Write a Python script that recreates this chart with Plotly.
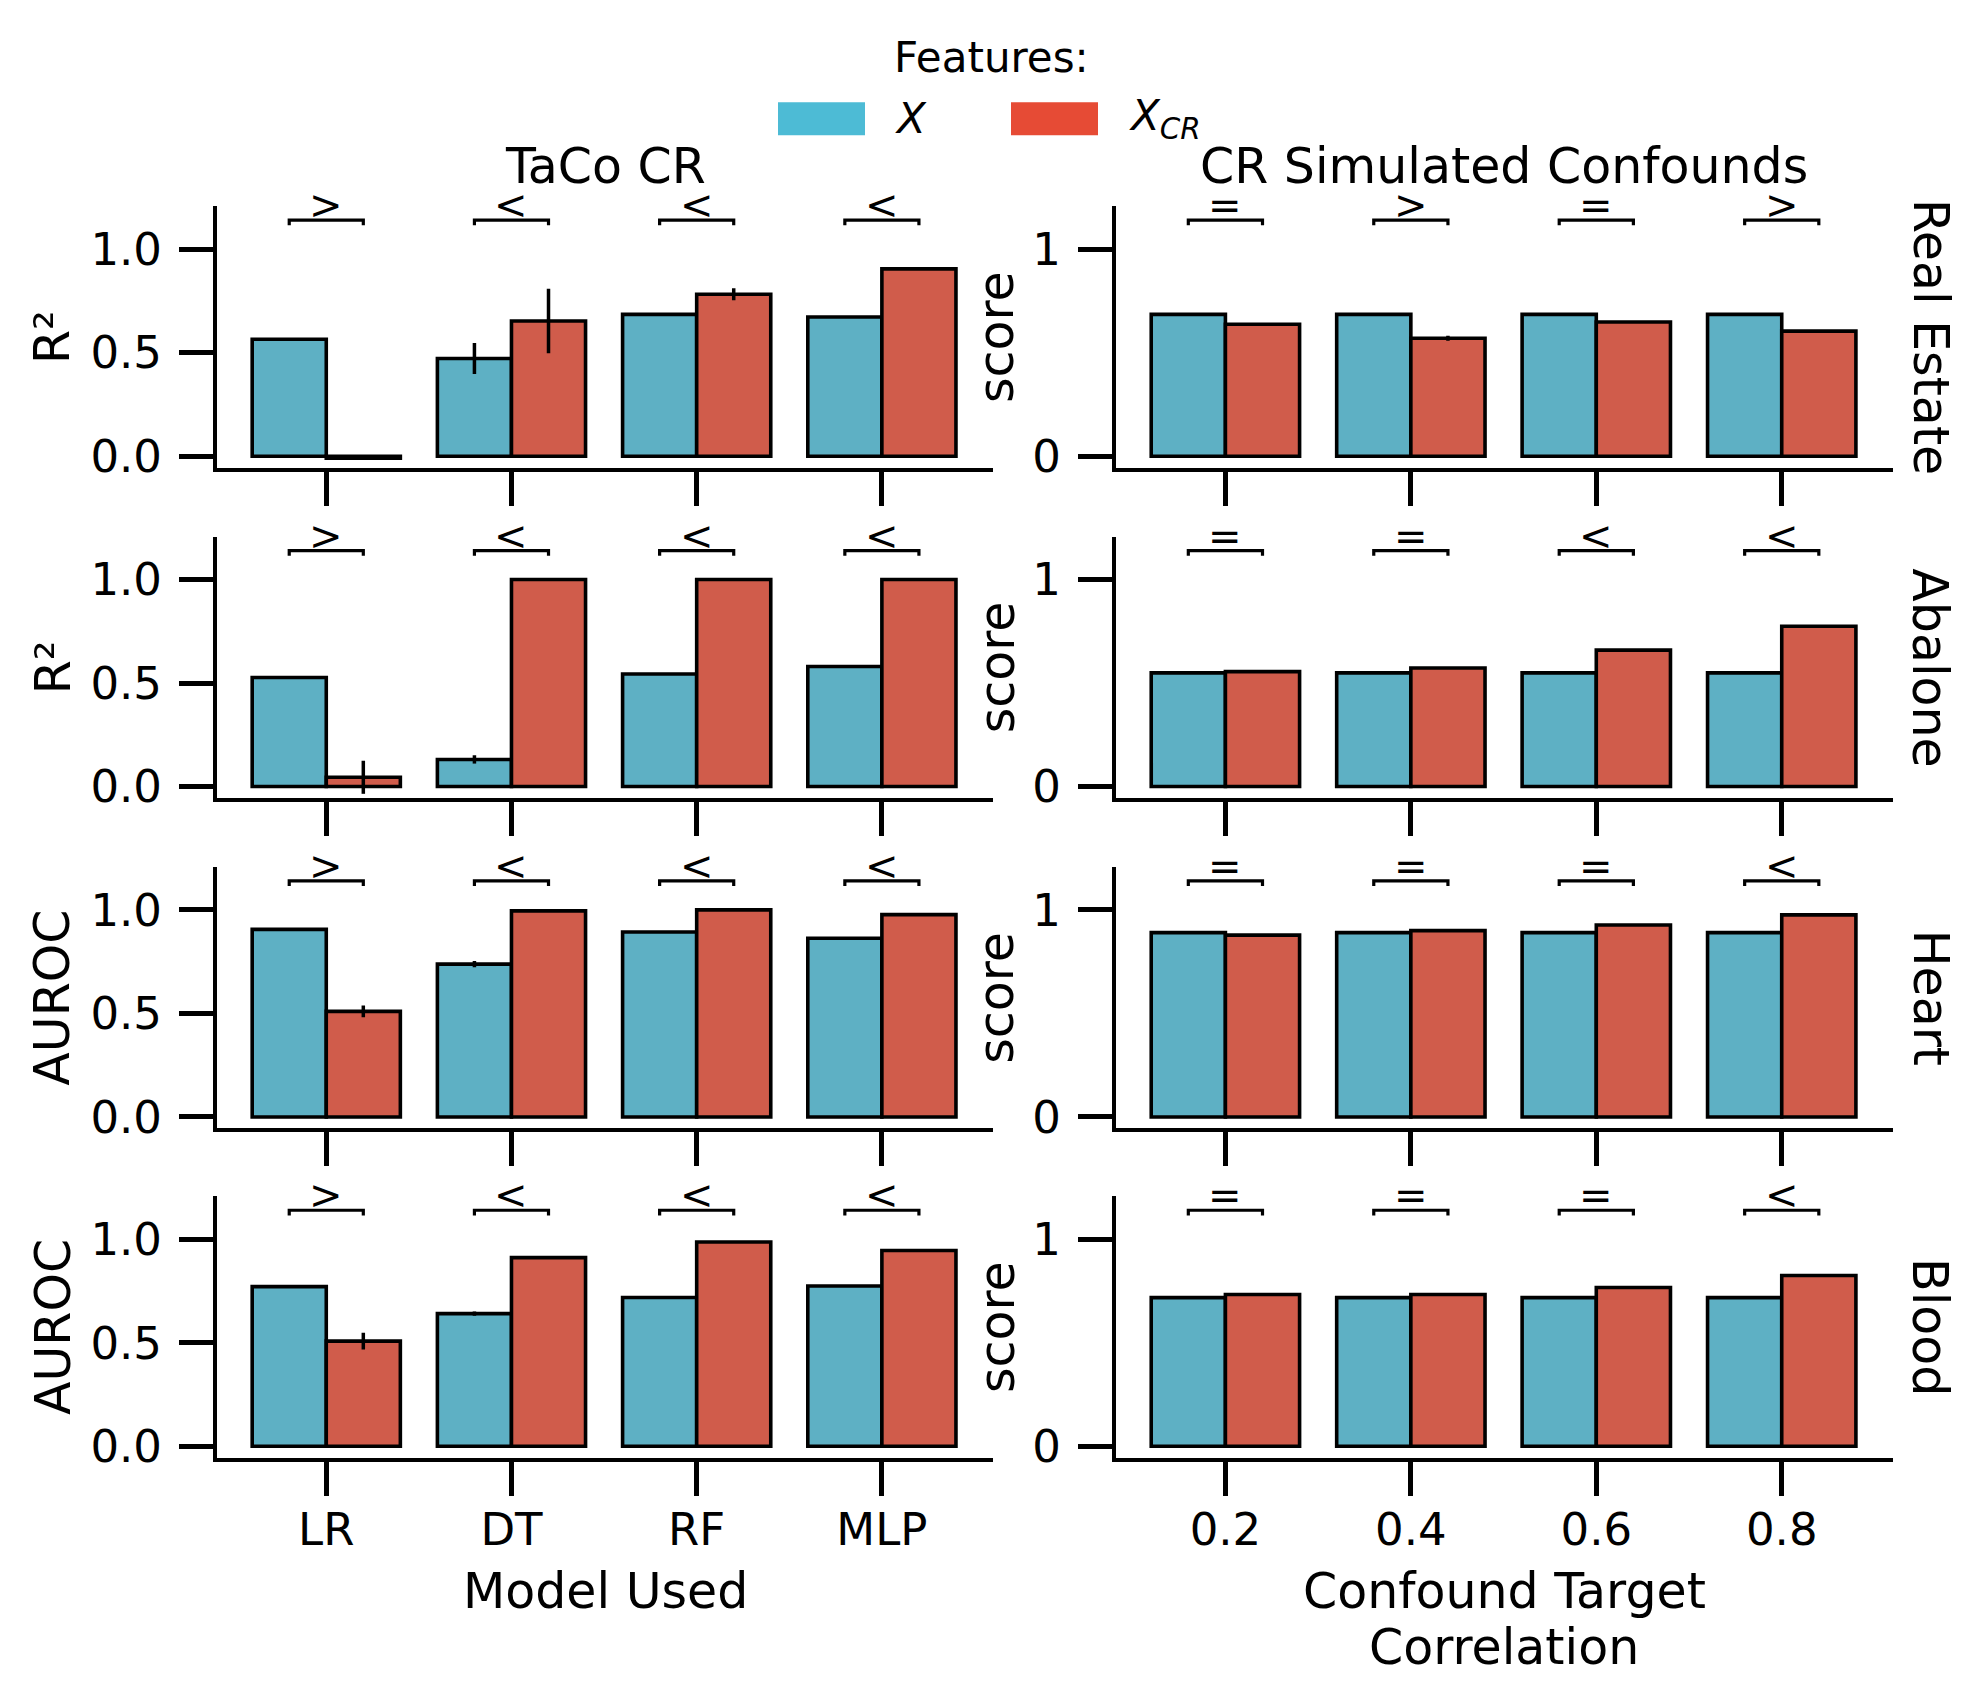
import plotly.graph_objects as go

# ---------------- data ----------------
models = ["LR", "DT", "RF", "MLP"]
corrs = ["0.2", "0.4", "0.6", "0.8"]
datasets = ["Real Estate", "Abalone", "Heart", "Blood"]
left_metrics = ["R²", "R²", "AUROC", "AUROC"]

# TaCo CR (left column): X and X_CR scores, with error half-widths
re_taco_x = [0.565, 0.472, 0.685, 0.672]
re_taco_x_err = [0.0, 0.075, 0.005, 0.003]
re_taco_xcr = [-0.01, 0.653, 0.782, 0.905]
re_taco_xcr_err = [0.004, 0.156, 0.029, 0.0]

ab_taco_x = [0.527, 0.131, 0.544, 0.580]
ab_taco_x_err = [0.0, 0.02, 0.0, 0.0]
ab_taco_xcr = [0.045, 1.0, 1.0, 1.0]
ab_taco_xcr_err = [0.08, 0.0, 0.0, 0.0]

he_taco_x = [0.906, 0.738, 0.893, 0.863]
he_taco_x_err = [0.0, 0.015, 0.0, 0.004]
he_taco_xcr = [0.510, 0.995, 1.0, 0.977]
he_taco_xcr_err = [0.028, 0.0, 0.0, 0.0]

bl_taco_x = [0.771, 0.641, 0.719, 0.774]
bl_taco_x_err = [0.0, 0.01, 0.004, 0.0]
bl_taco_xcr = [0.508, 0.911, 0.987, 0.946]
bl_taco_xcr_err = [0.04, 0.0, 0.0, 0.0]

# CR Simulated Confounds (right column)
re_sim_x = [0.685, 0.685, 0.685, 0.685]
re_sim_x_err = [0.004, 0.004, 0.004, 0.004]
re_sim_xcr = [0.637, 0.570, 0.648, 0.604]
re_sim_xcr_err = [0.005, 0.012, 0.005, 0.005]

ab_sim_x = [0.549, 0.549, 0.549, 0.549]
ab_sim_x_err = [0.0, 0.0, 0.0, 0.0]
ab_sim_xcr = [0.555, 0.573, 0.659, 0.774]
ab_sim_xcr_err = [0.0, 0.0, 0.0, 0.0]

he_sim_x = [0.890, 0.890, 0.890, 0.890]
he_sim_x_err = [0.0, 0.0, 0.0, 0.0]
he_sim_xcr = [0.878, 0.900, 0.927, 0.976]
he_sim_xcr_err = [0.0, 0.0, 0.0, 0.0]

bl_sim_x = [0.718, 0.718, 0.718, 0.718]
bl_sim_x_err = [0.004, 0.004, 0.004, 0.004]
bl_sim_xcr = [0.733, 0.733, 0.767, 0.825]
bl_sim_xcr_err = [0.004, 0.004, 0.004, 0.004]

# significance markers
re_taco_sig = [">", "<", "<", "<"]
ab_taco_sig = [">", "<", "<", "<"]
he_taco_sig = [">", "<", "<", "<"]
bl_taco_sig = [">", "<", "<", "<"]
re_sim_sig = ["=", ">", "=", ">"]
ab_sim_sig = ["=", "=", "<", "<"]
he_sim_sig = ["=", "=", "=", "<"]
bl_sim_sig = ["=", "=", "=", "<"]

left_x = [re_taco_x, ab_taco_x, he_taco_x, bl_taco_x]
left_x_err = [re_taco_x_err, ab_taco_x_err, he_taco_x_err, bl_taco_x_err]
left_xcr = [re_taco_xcr, ab_taco_xcr, he_taco_xcr, bl_taco_xcr]
left_xcr_err = [re_taco_xcr_err, ab_taco_xcr_err, he_taco_xcr_err, bl_taco_xcr_err]
left_sig = [re_taco_sig, ab_taco_sig, he_taco_sig, bl_taco_sig]
right_x = [re_sim_x, ab_sim_x, he_sim_x, bl_sim_x]
right_x_err = [re_sim_x_err, ab_sim_x_err, he_sim_x_err, bl_sim_x_err]
right_xcr = [re_sim_xcr, ab_sim_xcr, he_sim_xcr, bl_sim_xcr]
right_xcr_err = [re_sim_xcr_err, ab_sim_xcr_err, he_sim_xcr_err, bl_sim_xcr_err]
right_sig = [re_sim_sig, ab_sim_sig, he_sim_sig, bl_sim_sig]

# ---------------- style ----------------
OFF = 8  # page body margin
W, H = 1979 - 2 * OFF, 1700 - 2 * OFF
KY = 1.0 / 0.99  # vertical compensation observed in rendering
FONT = "DejaVu Sans"
BAR_BLUE = "#5EB0C4"
BAR_RED = "#D05C4B"
LEG_BLUE = "#4DBBD5"
LEG_RED = "#E64B35"
BRACKET_Y = 1.14
BRACKET_TICK = 1.115

col_px = [(217, 993), (1116, 1893)]
row_top = [206, 536, 866, 1195]
row_h = 261


def px_x(p):
    return (p - OFF) / W


def px_y(p):
    return 1 - (p * KY - OFF) / H


fig = go.Figure()
annotations = []
layout_axes = {}


def label(x, y, text, size=49, angle=0, xanchor="center"):
    annotations.append(dict(x=px_x(x), y=px_y(y), xref="paper", yref="paper", text=text,
                            textangle=angle, showarrow=False, xanchor=xanchor,
                            yanchor="middle", font=dict(family=FONT, size=size, color="black")))


for r in range(4):
    for c in range(2):
        i = r * 2 + c + 1
        xa = "x" if i == 1 else f"x{i}"
        ya = "y" if i == 1 else f"y{i}"
        xs = list(range(4))
        if c == 0:
            vx, ex, vc, ec, sig = left_x[r], left_x_err[r], left_xcr[r], left_xcr_err[r], left_sig[r]
        else:
            vx, ex, vc, ec, sig = right_x[r], right_x_err[r], right_xcr[r], right_xcr_err[r], right_sig[r]
        for vals, errs, col, og in [(vx, ex, BAR_BLUE, "a"), (vc, ec, BAR_RED, "b")]:
            fig.add_trace(go.Bar(
                x=xs, y=vals, xaxis=xa, yaxis=ya, offsetgroup=og,
                marker=dict(color=col, line=dict(color="black", width=3.6)),
                error_y=dict(type="data", array=errs, visible=True, color="black",
                             thickness=3.5, width=0),
                showlegend=False,
            ))
        # brackets
        bx, by = [], []
        for k in xs:
            bx += [k - 0.2, k - 0.2, k + 0.2, k + 0.2, None]
            by += [BRACKET_TICK, BRACKET_Y, BRACKET_Y, BRACKET_TICK, None]
        fig.add_trace(go.Scatter(x=bx, y=by, xaxis=xa, yaxis=ya, mode="lines",
                                 line=dict(color="black", width=3.2), showlegend=False,
                                 hoverinfo="skip", cliponaxis=False))
        for k, s in zip(xs, sig):
            annotations.append(dict(x=k, y=BRACKET_Y, xref=xa, yref=ya, text=s,
                                    showarrow=False, yanchor="bottom", xanchor="center",
                                    yshift=-10, font=dict(family=FONT, size=40, color="black")))

        x0, x1 = col_px[c]
        y0 = row_top[r]
        y1 = y0 + row_h
        is_bottom = r == 3
        xkey = "xaxis" if i == 1 else f"xaxis{i}"
        ykey = "yaxis" if i == 1 else f"yaxis{i}"
        layout_axes[xkey] = dict(
            domain=[px_x(x0), px_x(x1)], anchor=ya, range=[-0.59, 3.6],
            tickmode="array", tickvals=xs,
            ticktext=(models if c == 0 else corrs) if is_bottom else [" "] * 4,
            showline=True, linecolor="black", linewidth=4, mirror=False,
            ticks="outside", ticklen=34, tickwidth=4.5, tickcolor="black",
            showgrid=False, zeroline=False, ticklabelstandoff=-5,
            tickfont=dict(family=FONT, size=45, color="black"), fixedrange=True,
        )
        layout_axes[ykey] = dict(
            domain=[px_y(y1), px_y(y0)], anchor=xa, range=[-0.055, 1.207],
            tickmode="array",
            tickvals=[0, 0.5, 1.0] if c == 0 else [0, 1],
            ticktext=["0.0", "0.5", "1.0"] if c == 0 else ["0", "1"],
            showline=True, linecolor="black", linewidth=4,
            ticks="outside", ticklen=34, tickwidth=4.5, tickcolor="black",
            showgrid=False, zeroline=False, ticklabelstandoff=8,
            tickfont=dict(family=FONT, size=45, color="black"), fixedrange=True,
        )
        # y-axis titles
        ycen = (y0 + y1) / 2
        if c == 0:
            label(53, ycen, left_metrics[r], angle=-90)
        else:
            label(997, ycen, "score", angle=-90)
            label(1930, ycen, datasets[r], angle=90)

# column titles
label(605, 166, "TaCo CR")
label(1504, 166, "CR Simulated Confounds")
# x-axis titles
label(605, 1590, "Model Used")
label(1504, 1590, "Confound Target")
label(1504, 1646, "Correlation")

# legend
label(991, 57, "Features:", size=42)
label(893, 118, "<i>X</i>", size=42, xanchor="left")
label(1127, 118, "<i>X</i><sub><i>CR</i></sub>", size=42, xanchor="left")
shapes = [
    dict(type="rect", xref="paper", yref="paper", x0=px_x(778), x1=px_x(865),
         y0=px_y(135), y1=px_y(102), fillcolor=LEG_BLUE, line=dict(width=0)),
    dict(type="rect", xref="paper", yref="paper", x0=px_x(1011), x1=px_x(1098),
         y0=px_y(135), y1=px_y(102), fillcolor=LEG_RED, line=dict(width=0)),
]

fig.update_layout(
    width=W, height=H, margin=dict(l=0, r=0, t=0, b=0), autosize=False,
    paper_bgcolor="white", plot_bgcolor="white",
    barmode="group", bargap=0.2, bargroupgap=0,
    showlegend=False, annotations=annotations, shapes=shapes,
    font=dict(family=FONT, color="black"),
    **layout_axes,
)

fig.write_html("out.html")
